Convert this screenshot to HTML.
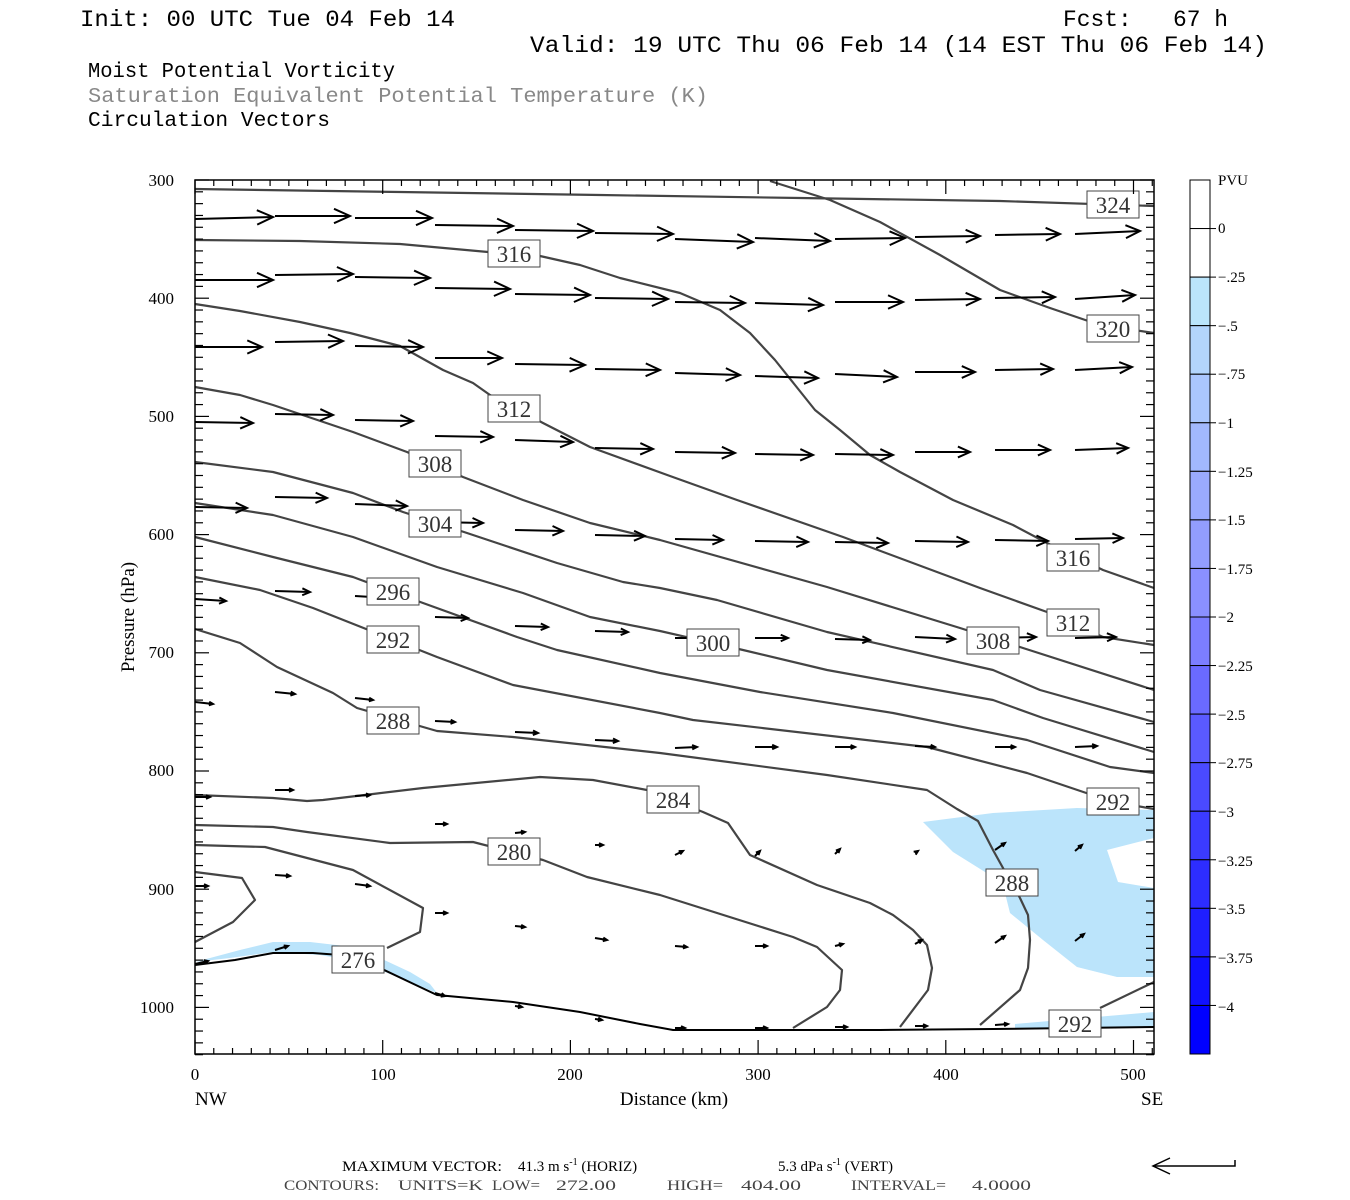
<!DOCTYPE html>
<html><head><meta charset="utf-8"><style>
html,body{margin:0;padding:0;background:#fff;}
svg{display:block;}
text{font-family:"Liberation Serif",serif;white-space:pre;}
.m{font-family:"Liberation Mono",monospace;}
</style></head><body>
<svg id="s" width="1350" height="1200" xmlns="http://www.w3.org/2000/svg" xml:space="preserve">
<rect width="1350" height="1200" fill="#fff"/>
<text class="m" x="80" y="26" font-size="23" textLength="375" lengthAdjust="spacingAndGlyphs" fill="#000">Init: 00 UTC Tue 04 Feb 14</text>
<text class="m" x="1063" y="26" font-size="23" textLength="165" lengthAdjust="spacingAndGlyphs" fill="#000">Fcst:   67 h</text>
<text class="m" x="530" y="52" font-size="23" textLength="737" lengthAdjust="spacingAndGlyphs" fill="#000">Valid: 19 UTC Thu 06 Feb 14 (14 EST Thu 06 Feb 14)</text>
<text class="m" x="88" y="77" font-size="21" textLength="307" lengthAdjust="spacingAndGlyphs" fill="#000">Moist Potential Vorticity</text>
<text class="m" x="88" y="102" font-size="21" textLength="620" lengthAdjust="spacingAndGlyphs" fill="#888">Saturation Equivalent Potential Temperature (K)</text>
<text class="m" x="88" y="126" font-size="21" textLength="242" lengthAdjust="spacingAndGlyphs" fill="#000">Circulation Vectors</text>

<g fill="#bbe4fb" stroke="none">
<polygon points="923,822 993,813 1077,808 1154,810 1154,838 1107,850 1118,882 1154,888 1154,977 1117,977 1077,967 1043,940 1010,913 1005,893 985,872 953,852"/>
<polygon points="1015,1024 1154,1012 1154,1028 1015,1028"/>
<polygon points="195,962 240,950 273,942 310,942 345,946 380,958 410,972 430,984 437,993 400,978 360,962 320,955 273,952 230,958"/>
</g>

<g fill="none" stroke="#444" stroke-width="2.2" stroke-linejoin="round">
<polyline points="195,189 400,192 600,195 800,198 1000,201 1154,206"/>
<polyline points="770,181 830,200 880,222 940,255 1000,290 1050,308 1100,325 1154,333"/>
<polyline points="195,240 300,241 400,244 488,252 540,256 580,265 620,278 680,293 720,310 750,333 775,360 795,385 815,410 840,430 870,455 900,472 953,500 1013,525 1047,543 1103,570 1154,588"/>
<polyline points="195,304 240,311 300,322 350,333 400,346 443,370 473,383 490,395 515,408 543,423 590,447 670,476 737,500 843,537 980,588 1047,612 1103,637 1154,645"/>
<polyline points="195,387 240,395 273,405 353,432 407,452 463,477 523,500 590,523 660,540 827,587 960,628 1023,648 1154,690"/>
<polyline points="195,462 273,472 353,493 403,512 467,533 557,563 623,582 660,588 717,600 827,632 993,670 1040,690 1154,722"/>
<polyline points="195,503 273,515 353,537 437,567 523,593 590,617 660,631 743,650 827,670 993,700 1043,718 1154,752"/>
<polyline points="195,537 273,557 353,577 423,603 517,637 557,650 660,673 760,692 893,713 1027,740 1110,767 1154,773"/>
<polyline points="195,577 260,590 313,608 437,657 513,685 660,713 693,720 927,747 1027,773 1113,802 1154,809"/>
<polyline points="195,629 240,643 277,667 333,693 357,708 437,731 513,737 660,753 827,775 927,790 957,809 978,821 993,850 1003,868 1020,898 1028,915 1030,940 1028,968 1020,990 980,1025"/>
<polyline points="195,795 273,798 307,801 323,800 373,794 423,788 540,777 593,780 647,790 703,812 728,823 750,855 817,885 870,903 893,915 913,930 927,945 932,968 928,990 900,1027"/>
<polyline points="195,825 273,827 307,832 390,843 473,842 543,860 587,877 660,895 793,937 817,947 842,970 840,990 827,1007 793,1028"/>
<polyline points="195,845 265,847 353,870 423,908 420,932 387,948"/>
<polyline points="195,872 242,878 255,900 233,922 195,942"/>
<polyline points="1100,1008 1154,982"/>
</g>
<polyline fill="none" stroke="#000" stroke-width="2" points="195,965 235,960 273,953 313,953 340,955 380,968 420,987 437,995 513,1002 580,1012 640,1024 673,1030 880,1030 993,1029 1154,1027"/>

<g id="arrows" stroke="#000" stroke-width="2" fill="none"></g>

<g id="labs" font-size="23" fill="#333" text-anchor="middle" stroke="none">
<g><rect x="1087" y="191" width="52" height="27" fill="#fff" stroke="#444"/><text x="1113" y="213">324</text></g>
<g><rect x="1087" y="315" width="52" height="27" fill="#fff" stroke="#444"/><text x="1113" y="337">320</text></g>
<g><rect x="488" y="240" width="52" height="27" fill="#fff" stroke="#444"/><text x="514" y="262">316</text></g>
<g><rect x="1047" y="544" width="52" height="27" fill="#fff" stroke="#444"/><text x="1073" y="566">316</text></g>
<g><rect x="488" y="395" width="52" height="27" fill="#fff" stroke="#444"/><text x="514" y="417">312</text></g>
<g><rect x="1047" y="609" width="52" height="27" fill="#fff" stroke="#444"/><text x="1073" y="631">312</text></g>
<g><rect x="409" y="450" width="52" height="27" fill="#fff" stroke="#444"/><text x="435" y="472">308</text></g>
<g><rect x="967" y="627" width="52" height="27" fill="#fff" stroke="#444"/><text x="993" y="649">308</text></g>
<g><rect x="409" y="510" width="52" height="27" fill="#fff" stroke="#444"/><text x="435" y="532">304</text></g>
<g><rect x="687" y="629" width="52" height="27" fill="#fff" stroke="#444"/><text x="713" y="651">300</text></g>
<g><rect x="367" y="578" width="52" height="27" fill="#fff" stroke="#444"/><text x="393" y="600">296</text></g>
<g><rect x="367" y="626" width="52" height="27" fill="#fff" stroke="#444"/><text x="393" y="648">292</text></g>
<g><rect x="1087" y="788" width="52" height="27" fill="#fff" stroke="#444"/><text x="1113" y="810">292</text></g>
<g><rect x="1049" y="1010" width="52" height="27" fill="#fff" stroke="#444"/><text x="1075" y="1032">292</text></g>
<g><rect x="367" y="707" width="52" height="27" fill="#fff" stroke="#444"/><text x="393" y="729">288</text></g>
<g><rect x="986" y="869" width="52" height="27" fill="#fff" stroke="#444"/><text x="1012" y="891">288</text></g>
<g><rect x="647" y="786" width="52" height="27" fill="#fff" stroke="#444"/><text x="673" y="808">284</text></g>
<g><rect x="488" y="838" width="52" height="27" fill="#fff" stroke="#444"/><text x="514" y="860">280</text></g>
<g><rect x="332" y="946" width="52" height="27" fill="#fff" stroke="#444"/><text x="358" y="968">276</text></g>
</g>

<rect x="195" y="180" width="959" height="874" fill="none" stroke="#000" stroke-width="1.5"/>
<g id="ticks" stroke="#000" stroke-width="1.2"></g>

<g font-size="17" fill="#000" text-anchor="end">
<text x="174" y="186">300</text><text x="174" y="304">400</text><text x="174" y="422">500</text>
<text x="174" y="540">600</text><text x="174" y="658">700</text><text x="174" y="776">800</text>
<text x="174" y="895">900</text><text x="174" y="1013">1000</text>
</g>
<g font-size="17" fill="#000" text-anchor="middle">
<text x="195" y="1080">0</text><text x="383" y="1080">100</text><text x="570" y="1080">200</text>
<text x="758" y="1080">300</text><text x="946" y="1080">400</text><text x="1133" y="1080">500</text>
</g>
<text x="195" y="1105" font-size="19" fill="#000">NW</text>
<text x="1141" y="1105" font-size="19" fill="#000">SE</text>
<text x="674" y="1105" font-size="19" fill="#000" text-anchor="middle">Distance (km)</text>
<text transform="translate(134,617) rotate(-90)" font-size="19" fill="#000" text-anchor="middle">Pressure (hPa)</text>

<g id="cb" stroke="#000" stroke-width="1"></g>
<g font-size="15" fill="#000">
<text x="1218" y="185">PVU</text>
<text x="1218" y="233">0</text><text x="1218" y="282">−.25</text><text x="1218" y="331">−.5</text>
<text x="1218" y="379">−.75</text><text x="1218" y="428">−1</text><text x="1218" y="477">−1.25</text>
<text x="1218" y="525">−1.5</text><text x="1218" y="574">−1.75</text><text x="1218" y="622">−2</text>
<text x="1218" y="671">−2.25</text><text x="1218" y="720">−2.5</text><text x="1218" y="768">−2.75</text>
<text x="1218" y="817">−3</text><text x="1218" y="866">−3.25</text><text x="1218" y="914">−3.5</text>
<text x="1218" y="963">−3.75</text><text x="1218" y="1012">−4</text>
</g>

<text x="342" y="1171" font-size="15" fill="#000" textLength="160" lengthAdjust="spacingAndGlyphs">MAXIMUM VECTOR:</text>
<text x="518" y="1171" font-size="15" fill="#000">41.3 m s<tspan font-size="10" dy="-6">-1</tspan><tspan dy="6"> (HORIZ)</tspan></text>
<text x="778" y="1171" font-size="15" fill="#000">5.3 dPa s<tspan font-size="10" dy="-6">-1</tspan><tspan dy="6"> (VERT)</tspan></text>
<g font-size="15" fill="#444">
<text x="284" y="1190" textLength="95" lengthAdjust="spacingAndGlyphs">CONTOURS:</text>
<text x="398" y="1190" textLength="85" lengthAdjust="spacingAndGlyphs">UNITS=K</text>
<text x="492" y="1190" textLength="48" lengthAdjust="spacingAndGlyphs">LOW=</text>
<text x="556" y="1190" textLength="60" lengthAdjust="spacingAndGlyphs">272.00</text>
<text x="667" y="1190" textLength="56" lengthAdjust="spacingAndGlyphs">HIGH=</text>
<text x="741" y="1190" textLength="60" lengthAdjust="spacingAndGlyphs">404.00</text>
<text x="851" y="1190" textLength="95" lengthAdjust="spacingAndGlyphs">INTERVAL=</text>
<text x="972" y="1190" textLength="59" lengthAdjust="spacingAndGlyphs">4.0000</text>
</g>
<g stroke="#000" stroke-width="1.5" fill="none"><polyline points="1235,1160 1235,1166 1153,1166"/><polyline points="1170,1158 1153,1166 1170,1174"/></g>
</svg>
<script>
var NS="http://www.w3.org/2000/svg";
function el(p,t,a){var e=document.createElementNS(NS,t);for(var k in a)e.setAttribute(k,a[k]);p.appendChild(e);return e;}
var tk=document.getElementById("ticks");
for(var p=300;p<=1040;p+=10){var y=180+(p-300)*1.182;var L=(p%100==0)?14:8;
 el(tk,"line",{x1:195,y1:y,x2:195+L,y2:y});el(tk,"line",{x1:1154,y1:y,x2:1154-L,y2:y});}
for(var d=0;d<=510;d+=10){var x=195+d*1.877;var L=(d%100==0)?14:6;
 el(tk,"line",{x1:x,y1:1054,x2:x,y2:1054-L});el(tk,"line",{x1:x,y1:180,x2:x,y2:180+L});}
var cols=["#fff","#fff","#bbe5fb","#b3d5fc","#aac6fd","#a2b8fd","#9aaafe","#929dfe","#8a90ff","#7c7eff","#6a6aff","#5a5aff","#4a4aff","#3b3bff","#2d2dff","#1f1fff","#1010ff","#0000ff"];
var cb=document.getElementById("cb");var h=874/18;
for(var i=0;i<18;i++){el(cb,"rect",{x:1190,y:180+i*h,width:20,height:h,fill:cols[i]});}
for(var i=1;i<18;i++){el(cb,"line",{x1:1210,y1:180+i*h,x2:1216,y2:180+i*h});}
var A=[
[[195,219,273,217],[275,216,350,216],[355,218,432,218],[435,225,513,226],[515,230,593,231],[595,233,673,234],[675,239,753,242],[755,238,830,241],[835,239,905,238],[915,237,980,236],[995,235,1060,234],[1075,234,1140,231]],
[[195,280,273,280],[275,275,353,274],[355,277,430,278],[435,288,510,289],[515,294,590,295],[595,298,668,299],[675,302,745,303],[755,303,823,305],[835,302,903,302],[915,300,980,299],[995,298,1055,297],[1075,299,1135,295]],
[[195,347,262,347],[275,342,343,341],[355,346,423,347],[435,358,502,358],[515,364,585,365],[595,369,660,370],[675,373,740,375],[755,376,818,378],[835,374,897,377],[915,372,975,372],[995,370,1053,369],[1075,370,1132,367]],
[[195,422,253,423],[275,414,333,415],[355,420,413,421],[435,436,493,437],[515,440,573,442],[595,448,653,449],[675,452,735,453],[755,454,813,455],[835,454,893,455],[915,452,970,452],[995,450,1050,450],[1075,450,1128,448]],
[[195,507,247,508],[275,497,327,498],[355,504,407,506],[435,522,483,523],[515,530,563,531],[595,535,645,536],[675,539,723,540],[755,541,808,542],[835,542,888,543],[915,541,968,542],[995,540,1048,541],[1075,539,1123,538]],
[[195,599,226,601],[275,591,310,592],[355,596,388,598],[435,617,468,618],[515,626,548,627],[595,631,628,632],[675,638,708,638],[755,638,788,638],[835,639,870,640],[915,637,955,639],[995,638,1036,637],[1075,638,1116,637]],
[[195,702,213,704],[275,692,295,694],[355,698,373,700],[435,721,455,722],[515,732,538,733],[595,740,618,741],[675,748,697,747],[755,747,777,747],[835,747,855,747],[915,746,935,747],[995,747,1015,747],[1075,747,1097,746]],
[[195,797,210,797],[275,790,293,790],[355,796,370,795],[435,824,447,824],[515,833,525,832],[595,845,603,845],[675,855,683,851],[755,856,760,851],[835,854,840,849],[915,853,918,851],[995,850,1005,843],[1075,851,1082,845]],
[[195,886,208,886],[275,875,290,876],[355,884,370,886],[435,913,447,913],[515,926,525,927],[595,938,607,940],[675,946,687,947],[755,946,767,946],[835,946,843,944],[915,944,922,940],[995,943,1005,936],[1075,941,1084,934]],
[[195,964,208,961],[275,950,288,946],[355,958,373,962],[435,993,445,996],[515,1006,522,1007],[595,1019,602,1020],[675,1028,685,1028],[755,1028,767,1028],[835,1027,847,1027],[915,1026,927,1026],[995,1025,1008,1024],[1075,1023,1085,1023]]
];
var ar=document.getElementById("arrows");
A.forEach(function(r){r.forEach(function(a){
 var dx=a[2]-a[0],dy=a[3]-a[1],l=Math.sqrt(dx*dx+dy*dy),ux=dx/l,uy=dy/l;
 var hs=Math.min(16,Math.max(4,l*0.22)),hw=hs*0.45;
 var bx=a[2]-ux*hs,by=a[3]-uy*hs;
 el(ar,"line",{x1:a[0],y1:a[1],x2:a[2],y2:a[3]});
 el(ar,"polyline",{points:(bx-uy*hw)+","+(by+ux*hw)+" "+a[2]+","+a[3]+" "+(bx+uy*hw)+","+(by-ux*hw)});
});});
</script>
</body></html>
